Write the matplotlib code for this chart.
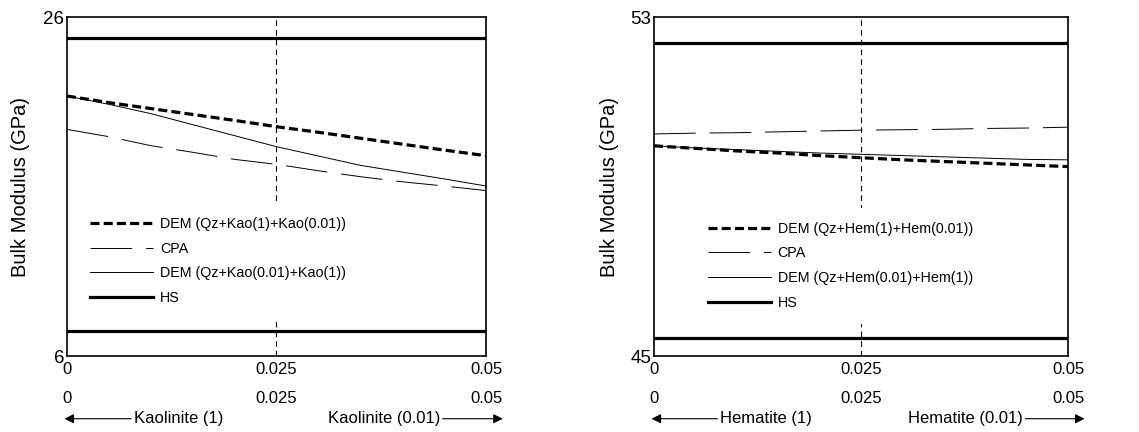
import matplotlib
matplotlib.use("Agg")
import matplotlib.pyplot as plt

plt.rcParams["font.family"] = ["Liberation Sans", "DejaVu Sans"]
plt.rcParams["lines.scale_dashes"] = False

# volume fraction of clay / hematite
fraction = [0, 0.005, 0.01, 0.015, 0.02, 0.025, 0.03, 0.035, 0.04, 0.045, 0.05]
tick_values = [0, 0.025, 0.05]
tick_labels = ["0", "0.025", "0.05"]

# kaolinite case (GPa)
kao_dem_1 = [21.34, 20.95, 20.6, 20.25, 19.9, 19.53, 19.2, 18.85, 18.5, 18.15, 17.82]
kao_cpa = [19.37, 18.94, 18.41, 18.02, 17.6, 17.31, 16.93, 16.58, 16.28, 16.03, 15.76]
kao_dem_2 = [21.34, 20.85, 20.3, 19.65, 19.0, 18.35, 17.8, 17.25, 16.85, 16.45, 16.03]
kao_hs = [24.78, 7.47]
kao_ylim = [6, 26]

# hematite case (GPa)
hem_dem_1 = [49.96, 49.90, 49.84, 49.79, 49.73, 49.68, 49.63, 49.59, 49.55, 49.51, 49.47]
hem_cpa = [50.24, 50.26, 50.27, 50.29, 50.31, 50.33, 50.34, 50.35, 50.37, 50.38, 50.40]
hem_dem_2 = [49.96, 49.91, 49.87, 49.83, 49.79, 49.76, 49.73, 49.70, 49.67, 49.64, 49.63]
hem_hs = [52.39, 45.42]
hem_ylim = [45, 53]


def draw_panel(ax, dem_1, cpa, dem_2, hs, ylim, mineral, short, legend_xy, ylabel_x):
    ax.plot(fraction, dem_1, color="black", lw=2.3, ls=(0, (6.5, 3)),
            label="DEM (Qz+%s(1)+%s(0.01))" % (short, short))
    ax.plot(fraction, cpa, color="black", lw=0.7, ls=(0, (30, 10)), label="CPA")
    ax.plot(fraction, dem_2, color="black", lw=0.7,
            label="DEM (Qz+%s(0.01)+%s(1))" % (short, short))
    ax.axhline(hs[0], color="black", lw=2.3, label="HS")
    ax.axhline(hs[1], color="black", lw=2.3)
    ax.axvline(0.025, color="black", lw=0.8, ls=(0, (4, 3)), zorder=1)

    ax.set_xlim(0, 0.05)
    ax.set_ylim(*ylim)
    ax.set_yticks(ylim)
    ax.set_yticklabels([str(v) for v in ylim])
    ax.set_xticks(tick_values)
    ax.set_xticklabels(tick_labels)
    ax.tick_params(axis="x", length=0, labelsize=12, pad=4)
    ax.tick_params(axis="y", length=0, labelsize=13.5, pad=2)
    for s in ax.spines.values():
        s.set_linewidth(1.2)
    ax.set_ylabel("Bulk Modulus (GPa)", fontsize=14.5)
    ax.yaxis.set_label_coords(ylabel_x, 0.5)

    # second row of tick labels
    for v, t in zip(tick_values, tick_labels):
        ax.annotate(t, xy=(v, -0.125), xycoords=("data", "axes fraction"),
                    ha="center", va="center", fontsize=12, annotation_clip=False)

    arrow = dict(arrowstyle="-|>", color="black", lw=0.8, mutation_scale=14,
                 shrinkA=0, shrinkB=0)
    ax.annotate("%s (1)" % mineral, xy=(-0.0003, -0.185), xytext=(0.008, -0.185),
                xycoords=("data", "axes fraction"), textcoords=("data", "axes fraction"),
                ha="left", va="center", fontsize=12, arrowprops=arrow,
                annotation_clip=False)
    ax.annotate("%s (0.01)" % mineral, xy=(0.052, -0.185), xytext=(0.0445, -0.185),
                xycoords=("data", "axes fraction"), textcoords=("data", "axes fraction"),
                ha="right", va="center", fontsize=12, arrowprops=arrow,
                annotation_clip=False)

    leg = ax.legend(loc="upper left", bbox_to_anchor=legend_xy, fontsize=10.3,
                    handlelength=4.4, handletextpad=0.5, labelspacing=0.74,
                    borderpad=1.0, borderaxespad=0, frameon=True, fancybox=False)
    leg.get_frame().set_edgecolor("none")
    leg.get_frame().set_facecolor("white")
    leg.get_frame().set_alpha(1)


def main():
    fig = plt.figure(figsize=(11.39, 4.32), dpi=100)
    ax1 = fig.add_axes([0.0588, 0.1759, 0.3679, 0.7847])
    ax2 = fig.add_axes([0.5742, 0.1759, 0.3635, 0.7847])

    draw_panel(ax1, kao_dem_1, kao_cpa, kao_dem_2, kao_hs, kao_ylim,
               "Kaolinite", "Kao", (0.02, 0.452), -0.088)
    draw_panel(ax2, hem_dem_1, hem_cpa, hem_dem_2, hem_hs, hem_ylim,
               "Hematite", "Hem", (0.095, 0.438), -0.0845)

    fig.savefig("out.png", dpi=100)


if __name__ == "__main__":
    main()
